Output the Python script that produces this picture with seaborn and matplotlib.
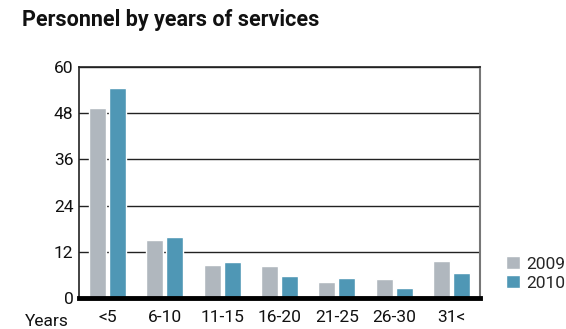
import matplotlib
matplotlib.use("Agg")
import matplotlib.pyplot as plt
import seaborn as sns
import pandas as pd

categories = ["<5", "6-10", "11-15", "16-20", "21-25", "26-30", "31<"]
values_2009 = [49.3, 15.1, 8.6, 8.3, 4.2, 5.0, 9.7]
values_2010 = [54.5, 15.8, 9.4, 5.7, 5.3, 2.7, 6.6]
years = ["2009", "2010"]
colors = ["#B0B7BE", "#4F97B5"]

df = pd.DataFrame({
    "cat": categories * 2,
    "value": values_2009 + values_2010,
    "year": [years[0]] * len(categories) + [years[1]] * len(categories),
})

sns.set_theme(style="white")
plt.rcParams["font.family"] = ["Roboto", "DejaVu Sans"]

fig = plt.figure(figsize=(5.66, 3.29), dpi=100)
ax = fig.add_axes([79 / 566, 1 - 298 / 329, (480 - 79) / 566, (298 - 67) / 329])

sns.barplot(data=df, x="cat", y="value", hue="year", order=categories,
            hue_order=years, palette=colors, width=0.7, gap=0.15,
            saturation=1, ax=ax, zorder=3, legend=True)

ax.set_xlim(-0.5, len(categories) - 0.5)
ax.set_ylim(0, 60)
ax.set_yticks([0, 12, 24, 36, 48, 60])
ax.yaxis.grid(True, color="#222222", linewidth=1)
ax.set_axisbelow(True)
ax.set_xlabel("")
ax.set_ylabel("")
ax.tick_params(axis="both", length=0, labelsize=12.5, colors="#111111")
ax.tick_params(axis="y", pad=4)
ax.tick_params(axis="x", pad=9)

for s in ["left", "top"]:
    ax.spines[s].set_color("#222222")
    ax.spines[s].set_linewidth(1.2)
ax.spines["right"].set_color("#777777")
ax.spines["right"].set_linewidth(1.5)
ax.spines["bottom"].set_color("black")
ax.spines["bottom"].set_linewidth(3.5)
ax.spines["bottom"].set_zorder(5)

fig.text(25 / 566, 1 - 321 / 329, "Years", fontsize=12.5, color="#111111",
         va="center", ha="left")
fig.text(22 / 566, 1 - 20 / 329, "Personnel by years of services",
         fontsize=15.5, fontweight="bold", color="#111111", va="center", ha="left")

handles, labels = ax.get_legend_handles_labels()
ax.legend(handles, labels, loc="lower left", bbox_to_anchor=(494 / 566, 1 - 303 / 329),
          bbox_transform=fig.transFigure, frameon=False, fontsize=12.5,
          handlelength=0.8, handleheight=0.8, handletextpad=0.35,
          labelspacing=0.2, borderpad=0.2)

fig.savefig("out.png", dpi=100)
